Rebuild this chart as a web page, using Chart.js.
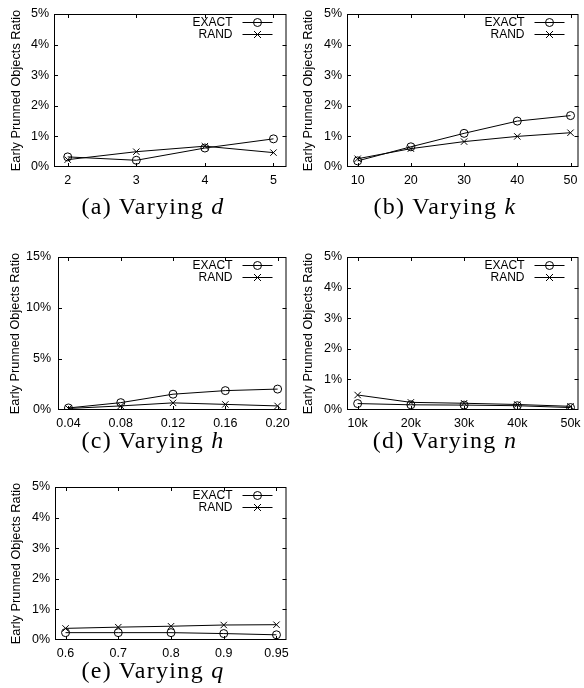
<!DOCTYPE html>
<html>
<head>
<meta charset="utf-8">
<script src="https://cdn.jsdelivr.net/npm/chart.js@4.4.1/dist/chart.umd.min.js"></script>
<style>
  html, body { margin: 0; padding: 0; background: #fff; }
  body { width: 584px; height: 688px; position: relative; overflow: hidden; }
  canvas { position: absolute; }
  .cap {
    position: absolute;
    font-family: "Liberation Serif", "Times New Roman", serif;
    font-size: 24px;
    line-height: 24px;
    letter-spacing: 1.3px;
    white-space: nowrap;
    transform: translateX(-50%);
    color: #000;
  }
</style>
</head>
<body>
<canvas id="chartD" width="292" height="230" style="left:0;top:0"></canvas>
<canvas id="chartK" width="292" height="230" style="left:292px;top:0"></canvas>
<canvas id="chartH" width="292" height="230" style="left:0;top:230px"></canvas>
<canvas id="chartN" width="292" height="230" style="left:292px;top:230px"></canvas>
<canvas id="chartQ" width="292" height="228" style="left:0;top:460px"></canvas>

<div class="cap" style="left:153px;top:194px">(a) Varying <i>d</i></div>
<div class="cap" style="left:445px;top:194px">(b) Varying <i>k</i></div>
<div class="cap" style="left:153px;top:428px">(c) Varying <i>h</i></div>
<div class="cap" style="left:445px;top:428px">(d) Varying <i>n</i></div>
<div class="cap" style="left:153px;top:658px">(e) Varying <i>q</i></div>

<script>
// values in percent
const seriesNames = ['EXACT', 'RAND'];

const dLabels = ['2', '3', '4', '5'];
const dExact = [0.33, 0.22, 0.62, 0.92];
const dRand = [0.24, 0.50, 0.68, 0.47];

const kLabels = ['10', '20', '30', '40', '50'];
const kExact = [0.20, 0.66, 1.10, 1.50, 1.68];
const kRand = [0.27, 0.60, 0.83, 1.00, 1.12];

const hLabels = ['0.04', '0.08', '0.12', '0.16', '0.20'];
const hExact = [0.20, 0.72, 1.55, 1.90, 2.05];
const hRand = [0.15, 0.40, 0.70, 0.55, 0.40];

const nLabels = ['10k', '20k', '30k', '40k', '50k'];
const nExact = [0.21, 0.17, 0.16, 0.14, 0.08];
const nRand = [0.49, 0.25, 0.22, 0.18, 0.12];

const qLabels = ['0.6', '0.7', '0.8', '0.9', '0.95'];
const qExact = [0.24, 0.24, 0.24, 0.21, 0.17];
const qRand = [0.38, 0.42, 0.45, 0.49, 0.50];

const sansFont = '"Liberation Sans", Arial, Helvetica, sans-serif';

// gnuplot style box: full frame, inward ticks, legend in the top right corner
const framePlugin = {
    id: 'frame',
    afterDatasetsDraw(chart) {
        const ctx = chart.ctx;
        const a = chart.chartArea;
        const xs = chart.scales.x;
        const ys = chart.scales.y;
        const tl = 4;
        ctx.save();
        ctx.strokeStyle = '#000';
        ctx.lineWidth = 1;
        ctx.strokeRect(a.left + 0.5, a.top + 0.5, a.right - a.left - 1, a.bottom - a.top - 1);

        ctx.beginPath();
        xs.ticks.forEach(t => {
            const px = Math.round(xs.getPixelForValue(t.value)) + 0.5;
            ctx.moveTo(px, a.bottom);
            ctx.lineTo(px, a.bottom - tl);
            ctx.moveTo(px, a.top);
            ctx.lineTo(px, a.top + tl);
        });
        ys.ticks.forEach(t => {
            if (t.value <= ys.min || t.value >= ys.max) return;
            const py = Math.round(ys.getPixelForValue(t.value)) + 0.5;
            ctx.moveTo(a.left, py);
            ctx.lineTo(a.left + tl, py);
            ctx.moveTo(a.right, py);
            ctx.lineTo(a.right - tl, py);
        });
        ctx.stroke();

        // legend
        ctx.font = '12px ' + sansFont;
        ctx.fillStyle = '#000';
        ctx.textAlign = 'right';
        ctx.textBaseline = 'middle';
        chart.data.datasets.forEach((ds, i) => {
            const y = Math.round(a.top + 8 + i * 12) + 0.5;
            ctx.fillText(ds.label, a.right - 54, y);
            ctx.beginPath();
            ctx.moveTo(a.right - 44, y);
            ctx.lineTo(a.right - 14, y);
            const mx = a.right - 29;
            if (ds.pointStyle === 'circle') {
                ctx.moveTo(mx + 4, y);
                ctx.arc(mx, y, 4, 0, Math.PI * 2);
            } else {
                ctx.moveTo(mx - 3.5, y - 3.5);
                ctx.lineTo(mx + 3.5, y + 3.5);
                ctx.moveTo(mx - 3.5, y + 3.5);
                ctx.lineTo(mx + 3.5, y - 3.5);
            }
            ctx.stroke();
        });
        ctx.restore();
    }
};

function makePanel(id, labels, exact, rand, yMax, yStep, box) {
    const canvas = document.getElementById(id);
    const W = canvas.width, H = canvas.height;
    const tickFont = { family: sansFont, size: 12.5 };
    return new Chart(canvas.getContext('2d'), {
        type: 'line',
        data: {
            datasets: [{
                label: seriesNames[0],
                data: exact.map((v, i) => ({ x: i, y: v })),
                borderColor: '#000',
                borderWidth: 1,
                pointStyle: 'circle',
                pointRadius: 4,
                pointBorderWidth: 1,
                pointBorderColor: '#000',
                pointBackgroundColor: 'rgba(0,0,0,0)'
            }, {
                label: seriesNames[1],
                data: rand.map((v, i) => ({ x: i, y: v })),
                borderColor: '#000',
                borderWidth: 1,
                pointStyle: 'crossRot',
                pointRadius: 4.5,
                pointBorderWidth: 1,
                pointBorderColor: '#000'
            }]
        },
        options: {
            responsive: false,
            animation: false,
            events: [],
            layout: { padding: { left: 0, top: box.top, right: W - box.right, bottom: 0 } },
            plugins: { legend: { display: false }, tooltip: { enabled: false } },
            scales: {
                x: {
                    type: 'linear',
                    min: -0.2,
                    max: box.xMax,
                    grid: { display: false, drawTicks: false },
                    border: { display: false },
                    ticks: {
                        padding: 6,
                        color: '#000',
                        font: tickFont,
                        maxRotation: 0,
                        autoSkip: false,
                        callback: v => labels[v]
                    },
                    afterBuildTicks: s => { s.ticks = labels.map((_, i) => ({ value: i })); },
                    afterFit: s => { s.height = H - box.bottom; s.paddingLeft = 0; s.paddingRight = 0; }
                },
                y: {
                    min: 0,
                    max: yMax,
                    grid: { display: false, drawTicks: false },
                    border: { display: false },
                    ticks: {
                        stepSize: yStep,
                        padding: box.tickPad,
                        color: '#000',
                        font: tickFont,
                        callback: v => v + '%'
                    },
                    title: {
                        display: true,
                        text: 'Early Prunned Objects Ratio',
                        color: '#000',
                        font: { family: sansFont, size: 12.8 },
                        padding: { top: box.titlePad, bottom: 0 }
                    },
                    afterFit: s => { s.width = box.left; s.paddingTop = 0; s.paddingBottom = 0; }
                }
            }
        },
        plugins: [framePlugin]
    });
}

makePanel('chartD', dLabels, dExact, dRand, 5, 1,
    { left: 54, right: 291, top: 14, bottom: 167, xMax: 3.19, tickPad: 5, titlePad: 8.5 });
makePanel('chartK', kLabels, kExact, kRand, 5, 1,
    { left: 55, right: 289, top: 14, bottom: 167, xMax: 4.15, tickPad: 5, titlePad: 8.5 });
makePanel('chartH', hLabels, hExact, hRand, 15, 5,
    { left: 58, right: 291, top: 27, bottom: 180, xMax: 4.17, tickPad: 7, titlePad: 7.5 });
makePanel('chartN', nLabels, nExact, nRand, 5, 1,
    { left: 55, right: 289, top: 27, bottom: 180, xMax: 4.15, tickPad: 5, titlePad: 8.5 });
makePanel('chartQ', qLabels, qExact, qRand, 5, 1,
    { left: 55, right: 291, top: 27, bottom: 180, xMax: 4.19, tickPad: 5, titlePad: 8.5 });
</script>
</body>
</html>
